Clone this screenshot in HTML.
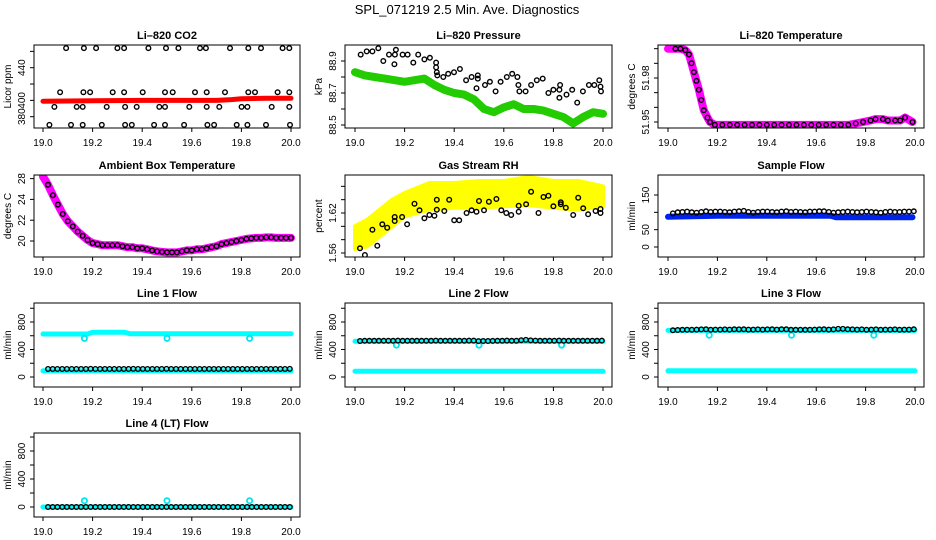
<!DOCTYPE html>
<html><head><meta charset="utf-8"><style>
html,body{margin:0;padding:0;background:#fff;}
svg{display:block;font-family:"Liberation Sans",Arial,sans-serif;}
</style></head><body>
<svg id="chart" width="936" height="540" viewBox="0 0 936 540" xmlns="http://www.w3.org/2000/svg">
<text x="467" y="14" text-anchor="middle" font-size="13">SPL_071219  2.5 Min. Ave. Diagnostics</text>
</svg>
<script>
// ---------- data ----------
const xTicks = [19.0, 19.2, 19.4, 19.6, 19.8, 20.0];
const xTickLabels = ["19.0","19.2","19.4","19.6","19.8","20.0"];
const outlierT = [19.167, 19.5, 19.833];

// CO2
const co2RedT = [19.0,19.2,19.4,19.6,19.7,19.76,19.8,19.9,20.0];
const co2RedV = [399,399.5,400,400,400,401,402,402.5,402.5];
const co2BlackT = [19.093,19.165,19.214,19.300,19.327,19.425,19.496,19.546,19.633,19.657,19.754,19.828,19.879,19.966,19.993,
 19.069,19.163,19.190,19.281,19.327,19.402,19.492,19.523,19.613,19.660,19.734,19.828,19.855,19.946,19.993,
 19.046,19.136,19.160,19.257,19.331,19.378,19.469,19.492,19.590,19.660,19.711,19.801,19.824,19.922,19.993,
 19.026,19.113,19.160,19.237,19.331,19.358,19.448,19.492,19.569,19.663,19.690,19.781,19.824,19.899,19.996];
const co2BlackV = [464,464,464,464,464,464,464,464,464,464,464,464,464,464,464,
 410,410,410,410,410,410,410,410,410,410,410,410,410,410,410,
 392,392,392,392,392,392,392,392,392,392,392,392,392,392,392,
 370,370,370,370,370,370,370,370,370,370,370,370,370,370,370];

// Pressure
const presGreenT = [19.0,19.04,19.08,19.12,19.16,19.2,19.24,19.28,19.32,19.36,19.4,19.44,19.48,19.52,19.56,19.6,19.64,19.68,19.72,19.76,19.8,19.84,19.88,19.92,19.96,20.0];
const presGreenV = [88.83,88.81,88.80,88.79,88.78,88.77,88.78,88.79,88.75,88.72,88.70,88.69,88.66,88.60,88.58,88.61,88.63,88.60,88.60,88.59,88.57,88.55,88.51,88.55,88.58,88.57];
const presBlackT = [19.023,19.047,19.07,19.094,19.114,19.137,19.161,19.165,19.159,19.192,19.212,19.235,19.255,19.28,19.302,19.327,19.327,19.33,19.332,19.356,19.376,19.399,19.423,19.448,19.47,19.495,19.495,19.49,19.524,19.544,19.567,19.587,19.612,19.634,19.655,19.659,19.663,19.688,19.71,19.733,19.757,19.78,19.8,19.824,19.827,19.824,19.853,19.876,19.896,19.919,19.943,19.965,19.985,19.99,19.992];
const presBlackV = [88.94,88.96,88.96,88.98,88.90,88.94,88.94,88.97,88.88,88.94,88.94,88.89,88.94,88.91,88.92,88.89,88.86,88.83,88.81,88.80,88.82,88.83,88.85,88.78,88.80,88.81,88.79,88.73,88.75,88.77,88.71,88.77,88.80,88.82,88.80,88.75,88.71,88.71,88.75,88.78,88.79,88.70,88.72,88.72,88.75,88.67,88.69,88.72,88.64,88.71,88.75,88.75,88.78,88.74,88.71];

// Li-820 temperature
const tempT = [19.0,19.03,19.05,19.07,19.085,19.095,19.105,19.115,19.125,19.135,19.145,19.16,19.17,19.19,19.22,19.25,19.28,19.31,19.34,19.37,19.40,19.43,19.46,19.49,19.52,19.55,19.58,19.61,19.64,19.67,19.70,19.73,19.76,19.79,19.82,19.84,19.87,19.89,19.92,19.94,19.96,19.99];
const tempV = [52.000,52.000,52.000,51.999,51.996,51.990,51.984,51.978,51.972,51.965,51.958,51.953,51.950,51.948,51.948,51.948,51.948,51.948,51.948,51.948,51.948,51.948,51.948,51.948,51.948,51.948,51.948,51.948,51.948,51.948,51.948,51.948,51.949,51.950,51.951,51.952,51.952,51.951,51.951,51.951,51.953,51.950];

// Ambient box temperature
const ambT = [19.0,19.02,19.04,19.06,19.08,19.10,19.12,19.14,19.16,19.18,19.20,19.22,19.24,19.26,19.28,19.30,19.32,19.34,19.36,19.38,19.40,19.42,19.44,19.46,19.48,19.50,19.52,19.54,19.56,19.58,19.60,19.62,19.64,19.66,19.68,19.70,19.72,19.74,19.76,19.78,19.80,19.82,19.84,19.86,19.88,19.90,19.92,19.94,19.96,19.98,20.00];
const ambV = [26.2,25.4,24.4,23.5,22.6,21.9,21.4,20.9,20.5,20.1,19.8,19.7,19.6,19.6,19.6,19.6,19.5,19.4,19.4,19.3,19.3,19.2,19.1,19.0,18.95,18.9,18.9,18.9,19.0,19.1,19.1,19.2,19.2,19.3,19.4,19.5,19.7,19.8,19.9,20.0,20.1,20.2,20.25,20.3,20.3,20.35,20.35,20.3,20.3,20.3,20.3];

// Gas stream RH
const rhT = [19.0,19.05,19.1,19.15,19.2,19.3,19.4,19.5,19.6,19.7,19.8,19.9,20.0];
const rhUpper = [1.600,1.610,1.625,1.640,1.650,1.665,1.665,1.668,1.668,1.674,1.668,1.668,1.660];
const rhLower = [1.566,1.570,1.585,1.600,1.615,1.625,1.628,1.628,1.630,1.632,1.628,1.625,1.630];
const rhBlackT = [19.02,19.04,19.07,19.09,19.11,19.13,19.16,19.16,19.19,19.21,19.24,19.26,19.28,19.30,19.32,19.33,19.33,19.36,19.38,19.40,19.42,19.45,19.47,19.49,19.50,19.52,19.54,19.57,19.59,19.61,19.63,19.66,19.66,19.69,19.71,19.74,19.76,19.78,19.80,19.83,19.83,19.85,19.88,19.90,19.92,19.94,19.97,19.99,19.99];
const rhBlackV = [1.567,1.557,1.595,1.571,1.603,1.598,1.614,1.608,1.614,1.603,1.634,1.624,1.612,1.617,1.616,1.640,1.625,1.623,1.640,1.609,1.609,1.620,1.624,1.622,1.638,1.624,1.637,1.641,1.624,1.620,1.617,1.622,1.631,1.633,1.652,1.620,1.644,1.646,1.630,1.633,1.636,1.628,1.617,1.643,1.627,1.618,1.623,1.626,1.620];

// Sample flow
const sfBlueT = [19.0,19.2,19.4,19.66,19.68,19.9,19.99];
const sfBlueV = [87,90,90,90,86,86,86];
const sfBlackV = [97,100,101,102,100,99,101,103,101,102,102,101,100,102,103,104,101,99,101,102,102,101,100,102,103,101,102,101,100,102,102,103,103,101,99,100,101,102,101,100,101,102,101,100,99,101,102,101,101,102,102,103];

// Line flows (black values)
const l1BlackV = [116,116,117,116,116,117,116,116,117,118,116,116,117,116,116,117,116,117,118,116,117,116,116,117,117,118,116,116,117,116,116,117,116,117,117,116,117,116,116,117,116,117,117,116,117,116,116,117,116,117,117,118];
const l2BlackV = [524,526,527,527,526,527,528,527,530,526,527,527,526,527,528,527,530,526,527,527,526,527,528,529,530,522,523,524,525,526,527,530,526,528,535,540,532,530,527,526,527,528,530,527,527,526,527,526,527,528,527,530];
const l3BlackV = [680,684,686,688,688,690,692,694,688,690,690,692,690,694,692,694,690,690,692,690,692,694,690,694,694,686,686,688,686,688,690,692,694,690,692,700,700,694,692,690,692,688,690,692,688,690,690,692,688,690,690,694];
const l4BlackV = [0,0,0,0,0,0,0,0,0,0,0,0,0,0,0,0,0,0,0,0,0,0,0,0,0,0,0,0,0,0,0,0,0,0,0,0,0,0,0,0,0,0,0,0,0,0,0,0,0,0,0,0];
const l1CyanTopT = [19.0,19.18,19.2,19.33,19.35,20.0];
const l1CyanTopV = [625,625,650,650,630,630];
const l2CyanTopV = [520,520,520,520,520,520];
const l3CyanTopV = [678,678,678,678,678,678];
const l4CyanTopV = [0,0,0,0,0,0];
const lineCyanLowT = [19.0,20.0];
const l1CyanLowV = [90,90];
const l2CyanLowV = [85,85];
const l3CyanLowV = [90,90];
const l4CyanLowV = [0,0];
const l1OutV = [561,561,561];
const l2OutV = [464,464,464];
const l3OutV = [608,608,608];
const l4OutV = [90,90,90];

// ---------- layout ----------
const cols = [{L:34,R:300,x0:43,x1:291},{L:345,R:612,x0:355,x1:603},{L:658,R:924,x0:668,x1:915}];
const rows = [{T:45,B:128},{T:175,B:257},{T:303,B:387},{T:433,B:517}];
const svg = document.getElementById('chart');
const NS = 'http://www.w3.org/2000/svg';
function mk(tag, attrs, parent){const e=document.createElementNS(NS,tag);for(const k in attrs)e.setAttribute(k,attrs[k]);(parent||svg).appendChild(e);return e;}

function blackTimes(n){ // evenly spaced sample times for regularly sampled black series
  const out=[];for(let i=0;i<n;i++)out.push(19.02+i*(0.975/(n-1)));return out;}

function panel(p){
  const c=cols[p.col], r=rows[p.row];
  const g=mk('g',{});
  
  
  const xs=t=>c.x0+(t-19)*(c.x1-c.x0);
  const ys=v=>p.ya+(v-p.va)*(p.yb-p.ya)/(p.vb-p.va);
  // clip
  const cid='clip'+p.name;
  const cp=mk('clipPath',{id:cid},g);mk('rect',{x:c.L,y:r.T,width:c.R-c.L,height:r.B-r.T},cp);
  const plot=mk('g',{'clip-path':'url(#'+cid+')'},g);
  
  
  p.series.forEach(s=>{
    if(s.type==='band'){
      const pts=s.t.map((t,i)=>xs(t).toFixed(1)+','+ys(s.v[i]).toFixed(1)).join(' ');
      const e=mk('polyline',{points:pts,fill:'none',stroke:s.color,'stroke-width':s.w,'stroke-linejoin':'round','stroke-linecap':'round'},plot);
      
      
    } else if(s.type==='area'){
      const up=s.t.map((t,i)=>xs(t).toFixed(1)+','+ys(s.up[i]).toFixed(1));
      const lo=s.t.map((t,i)=>xs(t).toFixed(1)+','+ys(s.lo[i]).toFixed(1)).reverse();
      const e=mk('polygon',{points:up.concat(lo).join(' '),fill:s.color,stroke:s.color,'stroke-width':4,'stroke-linejoin':'round'},plot);
      
      
    } else {
      s.t.forEach((t,i)=>{
        const e=mk('circle',{cx:xs(t).toFixed(1),cy:ys(s.v[i]).toFixed(1),r:s.r||2.3,fill:'none',stroke:s.color,'stroke-width':s.sw||1.4},plot);
        
        
      });
    }
  });
  // box
  const box=mk('rect',{x:c.L,y:r.T,width:c.R-c.L,height:r.B-r.T,fill:'none',stroke:'#000','stroke-width':1},g);
  
  
  // title
  const tt=mk('text',{x:(c.L+c.R)/2,y:r.T-6,'text-anchor':'middle','font-size':11,'font-weight':'bold'},g);
  tt.textContent=p.title;
  
  
  // x axis
  xTicks.forEach((t,i)=>{
    const x=xs(t);
    mk('line',{x1:x,x2:x,y1:r.B,y2:r.B+4,stroke:'#000'},g);
    const lb=mk('text',{x:x,y:r.B+18,'text-anchor':'middle','font-size':10},g);
    lb.textContent=xTickLabels[i];
    
    
  });
  // y axis
  p.yt.forEach(v=>{const y=ys(v);mk('line',{x1:c.L-4,x2:c.L,y1:y,y2:y,stroke:'#000'},g);});
  p.yl.forEach((lab,i)=>{
    const y=ys(p.ylv[i]);
    const lb=mk('text',{x:c.L-9,y:y,'text-anchor':'middle','font-size':10,transform:'rotate(-90 '+(c.L-9)+' '+y+')'},g);
    lb.textContent=lab;
    
    
  });
  const ym=(r.T+r.B)/2;
  const yl=mk('text',{x:c.L-23,y:ym,'text-anchor':'middle','font-size':10,transform:'rotate(-90 '+(c.L-23)+' '+ym+')'},g);
  yl.textContent=p.ylab;
  
  
}

const bt = blackTimes(52);
const flowTicks=[0,200,400,600,800,1000];
panel({name:'co2-panel',col:0,row:0,title:'Li\u2013820 CO2',ylab:'Licor ppm',va:380,ya:116.7,vb:440,yb:67.7,
  yt:[380,400,420,440,460],yl:['380','400','440'],ylv:[380,400,440],
  series:[{type:'band',name:'co2-red-series',t:co2RedT,v:co2RedV,color:'#ff0000',w:5},
          {type:'pts',name:'co2-black-series',t:co2BlackT,v:co2BlackV,color:'#000'}]});
panel({name:'pressure-panel',col:1,row:0,title:'Li\u2013820 Pressure',ylab:'kPa',va:88.5,ya:125,vb:88.9,yb:61,
  yt:[88.5,88.6,88.7,88.8,88.9],yl:['88.5','88.7','88.9'],ylv:[88.5,88.7,88.9],
  series:[{type:'band',name:'pressure-green-series',t:presGreenT,v:presGreenV,color:'#22cc00',w:8},
          {type:'pts',name:'pressure-black-series',t:presBlackT,v:presBlackV,color:'#000'}]});
panel({name:'temperature-panel',col:2,row:0,title:'Li\u2013820 Temperature',ylab:'degrees C',va:51.95,ya:122,vb:51.98,yb:78,
  yt:[51.95,51.96,51.97,51.98,51.99,52.0],yl:['51.95','51.98'],ylv:[51.95,51.98],
  series:[{type:'band',name:'temperature-magenta-series',t:tempT,v:tempV,color:'#ff00ff',w:8},
          {type:'pts',name:'temperature-black-series',t:tempT.slice(1),v:tempV.slice(1),color:'#000'}]});
panel({name:'ambient-panel',col:0,row:1,title:'Ambient Box Temperature',ylab:'degrees C',va:20,ya:241,vb:26,yb:178.6,
  yt:[20,22,24,26],yl:['20','22','24','28'],ylv:[20,22,24,26],
  series:[{type:'band',name:'ambient-magenta-series',t:ambT,v:ambV,color:'#ff00ff',w:8},
          {type:'pts',name:'ambient-black-series',t:ambT.slice(1),v:ambV.slice(1),color:'#000'}]});
panel({name:'rh-panel',col:1,row:1,title:'Gas Stream RH',ylab:'percent',va:1.56,ya:253,vb:1.62,yb:213,
  yt:[1.56,1.58,1.60,1.62,1.64,1.66],yl:['1.56','1.62'],ylv:[1.56,1.62],
  series:[{type:'area',name:'rh-yellow-series',t:rhT,up:rhUpper,lo:rhLower,color:'#ffff00'},
          {type:'pts',name:'rh-black-series',t:rhBlackT,v:rhBlackV,color:'#000'}]});
panel({name:'sample-flow-panel',col:2,row:1,title:'Sample Flow',ylab:'ml/min',va:0,ya:247,vb:150,yb:195,
  yt:[0,50,100,150],yl:['0','50','150'],ylv:[0,50,150],
  series:[{type:'band',name:'sample-flow-blue-series',t:sfBlueT,v:sfBlueV,color:'#0022ee',w:6},
          {type:'pts',name:'sample-flow-black-series',t:bt,v:sfBlackV,color:'#000'}]});
const flowPanels=[
  {name:'line1-flow-panel',col:0,row:2,title:'Line 1 Flow',top:l1CyanTopV,topT:l1CyanTopT,low:l1CyanLowV,blk:l1BlackV,out:l1OutV},
  {name:'line2-flow-panel',col:1,row:2,title:'Line 2 Flow',top:l2CyanTopV,topT:l1CyanTopT,low:l2CyanLowV,blk:l2BlackV,out:l2OutV},
  {name:'line3-flow-panel',col:2,row:2,title:'Line 3 Flow',top:l3CyanTopV,topT:l1CyanTopT,low:l3CyanLowV,blk:l3BlackV,out:l3OutV},
  {name:'line4-flow-panel',col:0,row:3,title:'Line 4 (LT) Flow',top:l4CyanTopV,topT:l1CyanTopT,low:l4CyanLowV,blk:l4BlackV,out:l4OutV}];
flowPanels.forEach(f=>{
  const r=rows[f.row];
  const y0=f.row===3?507:377, y800=f.row===3?451:322;
  panel({name:f.name,col:f.col,row:f.row,title:f.title,ylab:'ml/min',va:0,ya:y0,vb:800,yb:y800,
    yt:flowTicks,yl:['0','400','800'],ylv:[0,400,800],
    series:[{type:'band',name:f.name+'-cyan-upper',t:f.topT,v:f.top,color:'#00ffff',w:5},
            {type:'band',name:f.name+'-cyan-lower',t:lineCyanLowT,v:f.low,color:'#00ffff',w:5},
            {type:'pts',name:f.name+'-cyan-outliers',t:outlierT,v:f.out,color:'#00e5ee',sw:1.8,r:2.6},
            {type:'pts',name:f.name+'-black-series',t:bt,v:f.blk,color:'#000'}]});
});
</script>
</body></html>
